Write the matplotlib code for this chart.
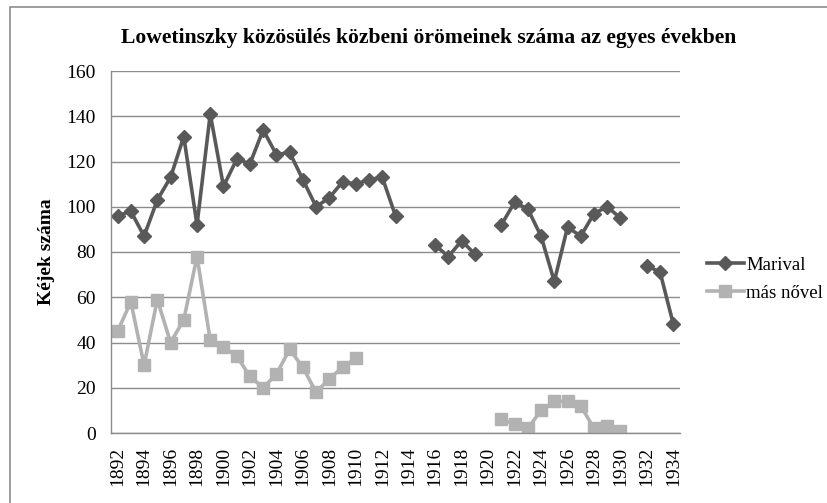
import numpy as np
import matplotlib.pyplot as plt
from matplotlib.patches import Rectangle

plt.rcParams['font.family'] = ['Liberation Serif', 'DejaVu Serif']

evek = list(range(1892, 1935))
nan = np.nan
marival = [96, 98, 87, 103, 113, 131, 92, 141, 109, 121, 119, 134, 123, 124, 112, 100,
           104, 111, 110, 112, 113, 96, nan, nan, 83, 78, 85, 79, nan, 92, 102, 99, 87,
           67, 91, 87, 97, 100, 95, nan, 74, 71, 48]
mas_novel = [45, 58, 30, 59, 40, 50, 78, 41, 38, 34, 25, 20, 26, 37, 29, 18, 24, 29, 33,
             nan, nan, nan, nan, nan, nan, nan, nan, nan, nan, 6, 4, 2, 10, 14, 14, 12,
             2, 3, 1, nan, nan, nan, nan]

fig = plt.figure(figsize=(8.28, 5.03), dpi=100)
ax = fig.add_axes([111 / 828, 70 / 503, 569 / 828, 362 / 503])

# ramka jak w Excelu (prawa i dolna krawedz ucieta)
fig.patches.append(Rectangle((9.5 / 828, -0.1), 1.0, 1.1 - 7.5 / 503,
                             transform=fig.transFigure, fill=False,
                             edgecolor='#8c8c8c', linewidth=1.2))

x = np.arange(len(evek))
ax.plot(x, marival, color='#595959', linewidth=2.6, marker='D', markersize=7.5,
        label='Marival')
ax.plot(x, mas_novel, color='#b2b2b2', linewidth=2.6, marker='s', markersize=9,
        label='más nővel')

ax.set_xlim(-0.5, len(evek) - 0.5)
ax.set_ylim(0, 160)
ax.set_yticks(range(0, 161, 20))
ax.set_xticks(x[::2])
ax.set_xticklabels([str(e) for e in evek[::2]], rotation=90, fontsize=14)
ax.tick_params(axis='y', labelsize=14, length=0, pad=11)
ax.tick_params(axis='x', length=0, pad=10)
ax.grid(axis='y', color='#8c8c8c', linewidth=1)
ax.set_axisbelow(True)
for s in ['top', 'right']:
    ax.spines[s].set_visible(False)
for s in ['left', 'bottom']:
    ax.spines[s].set_color('#8c8c8c')
    ax.spines[s].set_linewidth(1)

ax.set_ylabel('Kéjek száma', fontsize=14, fontweight='bold', labelpad=8)
fig.text(429 / 828, 1 - 38 / 503, 'Lowetinszky közösülés közbeni örömeinek száma az egyes években',
         ha='center', va='center', fontsize=15.6, fontweight='bold')

ax.legend(loc='center left', bbox_to_anchor=(1.047, 0.425), frameon=False, fontsize=13.5,
          handlelength=2.0, handletextpad=0.1, labelspacing=0.6,
          borderpad=0, borderaxespad=0)

plt.savefig('out.png', dpi=100)
